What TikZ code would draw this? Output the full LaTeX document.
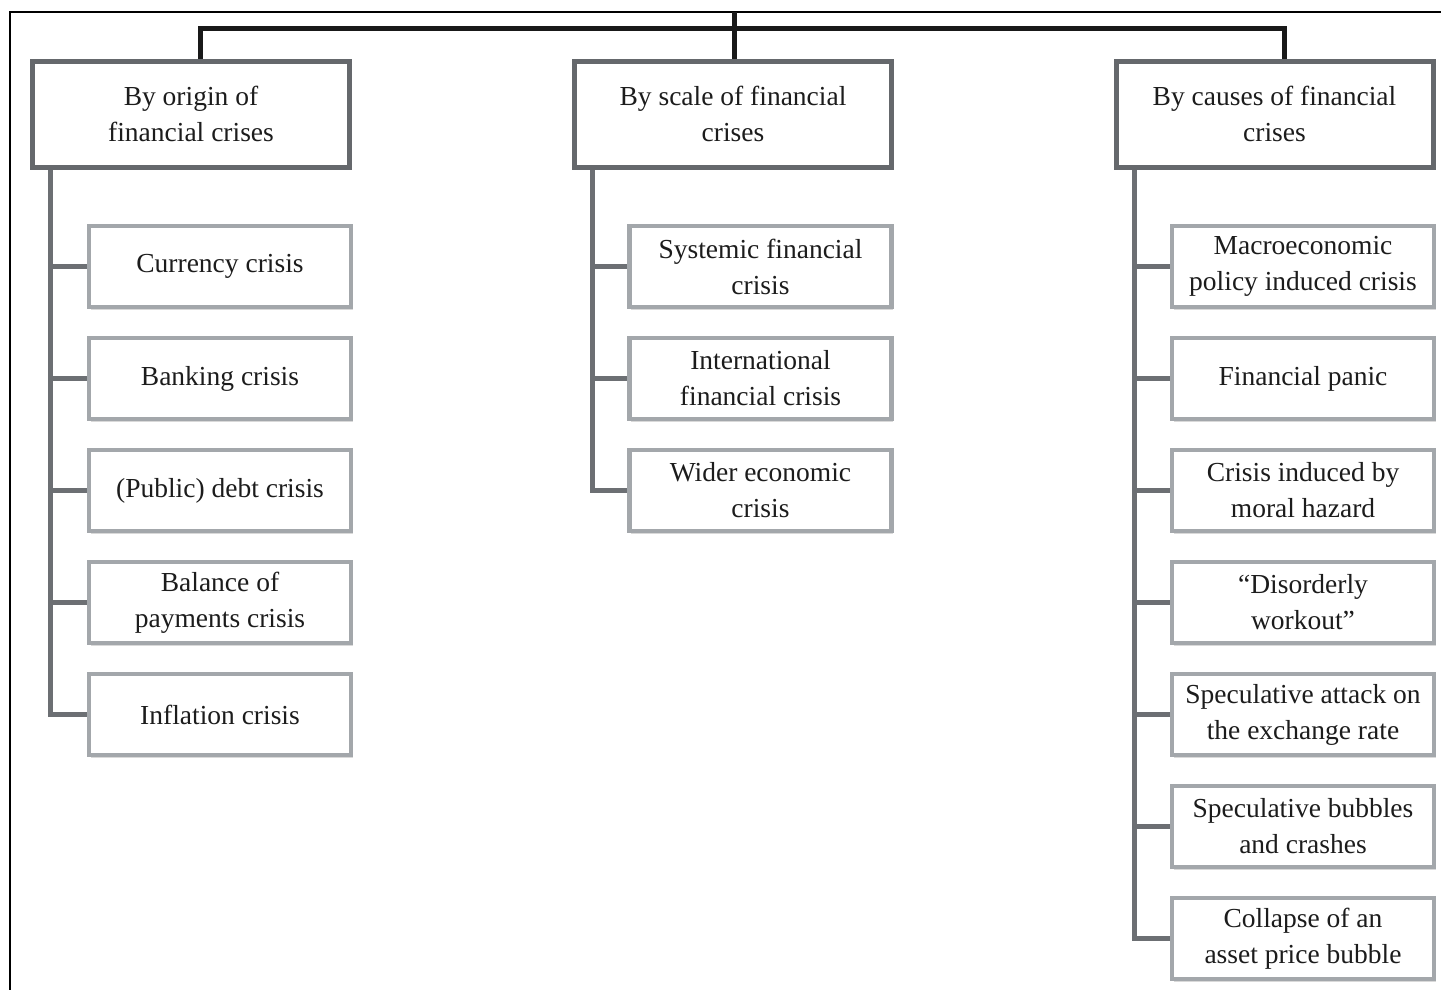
\documentclass[tikz,border=0pt]{standalone}
\usepackage{fontspec}
\setmainfont{Liberation Serif}
\usetikzlibrary{shadows}
\definecolor{headline}{HTML}{65686C}
\definecolor{itemline}{HTML}{A3A7AB}
\definecolor{spine}{HTML}{6C6F73}
\definecolor{inktext}{HTML}{1C1C1C}
\tikzset{
  x=1pt, y=-1pt,
  txt/.style={font=\fontsize{27.5}{36}\selectfont, text=inktext, align=center, inner sep=0pt},
  headbox/.style={txt, draw=headline, line width=5pt, fill=white,
    minimum width=317pt, minimum height=106pt,
    drop shadow={shadow xshift=2pt, shadow yshift=-3pt, fill=black!25, opacity=1}},
  itembox/.style={txt, draw=itemline, line width=4.5pt, fill=white,
    minimum width=262pt, minimum height=81pt,
    drop shadow={shadow xshift=1.5pt, shadow yshift=-2.5pt, fill=black!15, opacity=1}},
  bracket/.style={draw=black!90, line width=5pt},
  spineline/.style={draw=spine, line width=5pt},
  frameline/.style={draw=black, line width=2pt}
}
\begin{document}
\begin{tikzpicture}
\useasboundingbox (0,0) rectangle (1441,989);
\clip (0,0) rectangle (1441,989);

% outer frame (runs off the right and bottom edges)
\coordinate (ftl) at (10,12);
\draw[frameline] (1460,12) -- (ftl) -- (10,1010);

% top-level categories
\node[headbox] (h1) at (191,114) {By origin of\\financial crises};
\node[headbox] (h2) at (733,114) {By scale of financial\\crises};
\node[headbox] (h3) at (1274.5,114) {By causes of financial\\crises};

% bracket joining the three categories
\coordinate (btop) at (734,12);
\coordinate (bl) at (200,28);
\coordinate (br) at (1284,28);
\draw[bracket] (btop) -- ([xshift=1pt]h2.north);
\draw[bracket] ([xshift=9pt]h1.north) -- (bl) -- (br) -- ([xshift=9.5pt]h3.north);

% column 1
\node[itembox] (a1) at (220,266.5) {Currency crisis};
\node[itembox] (a2) at (220,378.5) {Banking crisis};
\node[itembox] (a3) at (220,490.5) {(Public) debt crisis};
\node[itembox] (a4) at (220,602.5) {Balance of\\payments crisis};
\node[itembox] (a5) at (220,714.5) {Inflation crisis};

% column 2
\node[itembox] (b1) at (760.5,266.5) {Systemic financial\\crisis};
\node[itembox] (b2) at (760.5,378.5) {International\\financial crisis};
\node[itembox] (b3) at (760.5,490.5) {Wider economic\\crisis};

% column 3
\node[itembox] (c1) at (1303,266.5) {Macroeconomic\\policy induced crisis};
\node[itembox] (c2) at (1303,378.5) {Financial panic};
\node[itembox] (c3) at (1303,490.5) {Crisis induced by\\moral hazard};
\node[itembox] (c4) at (1303,602.5) {``Disorderly\\workout''};
\node[itembox] (c5) at (1303,714.5) {Speculative attack on\\the exchange rate};
\node[itembox] (c6) at (1303,826.5) {Speculative bubbles\\and crashes};
\node[itembox] (c7) at (1303,938.5) {Collapse of an\\asset price bubble};

% spines from each category to its items
\foreach \k in {1,...,5}
  \draw[spineline] ([xshift=20pt]h1.south west) |- (a\k.west);
\foreach \k in {1,...,3}
  \draw[spineline] ([xshift=20pt]h2.south west) |- (b\k.west);
\foreach \k in {1,...,7}
  \draw[spineline] ([xshift=21pt]h3.south west) |- (c\k.west);
\end{tikzpicture}
\end{document}
